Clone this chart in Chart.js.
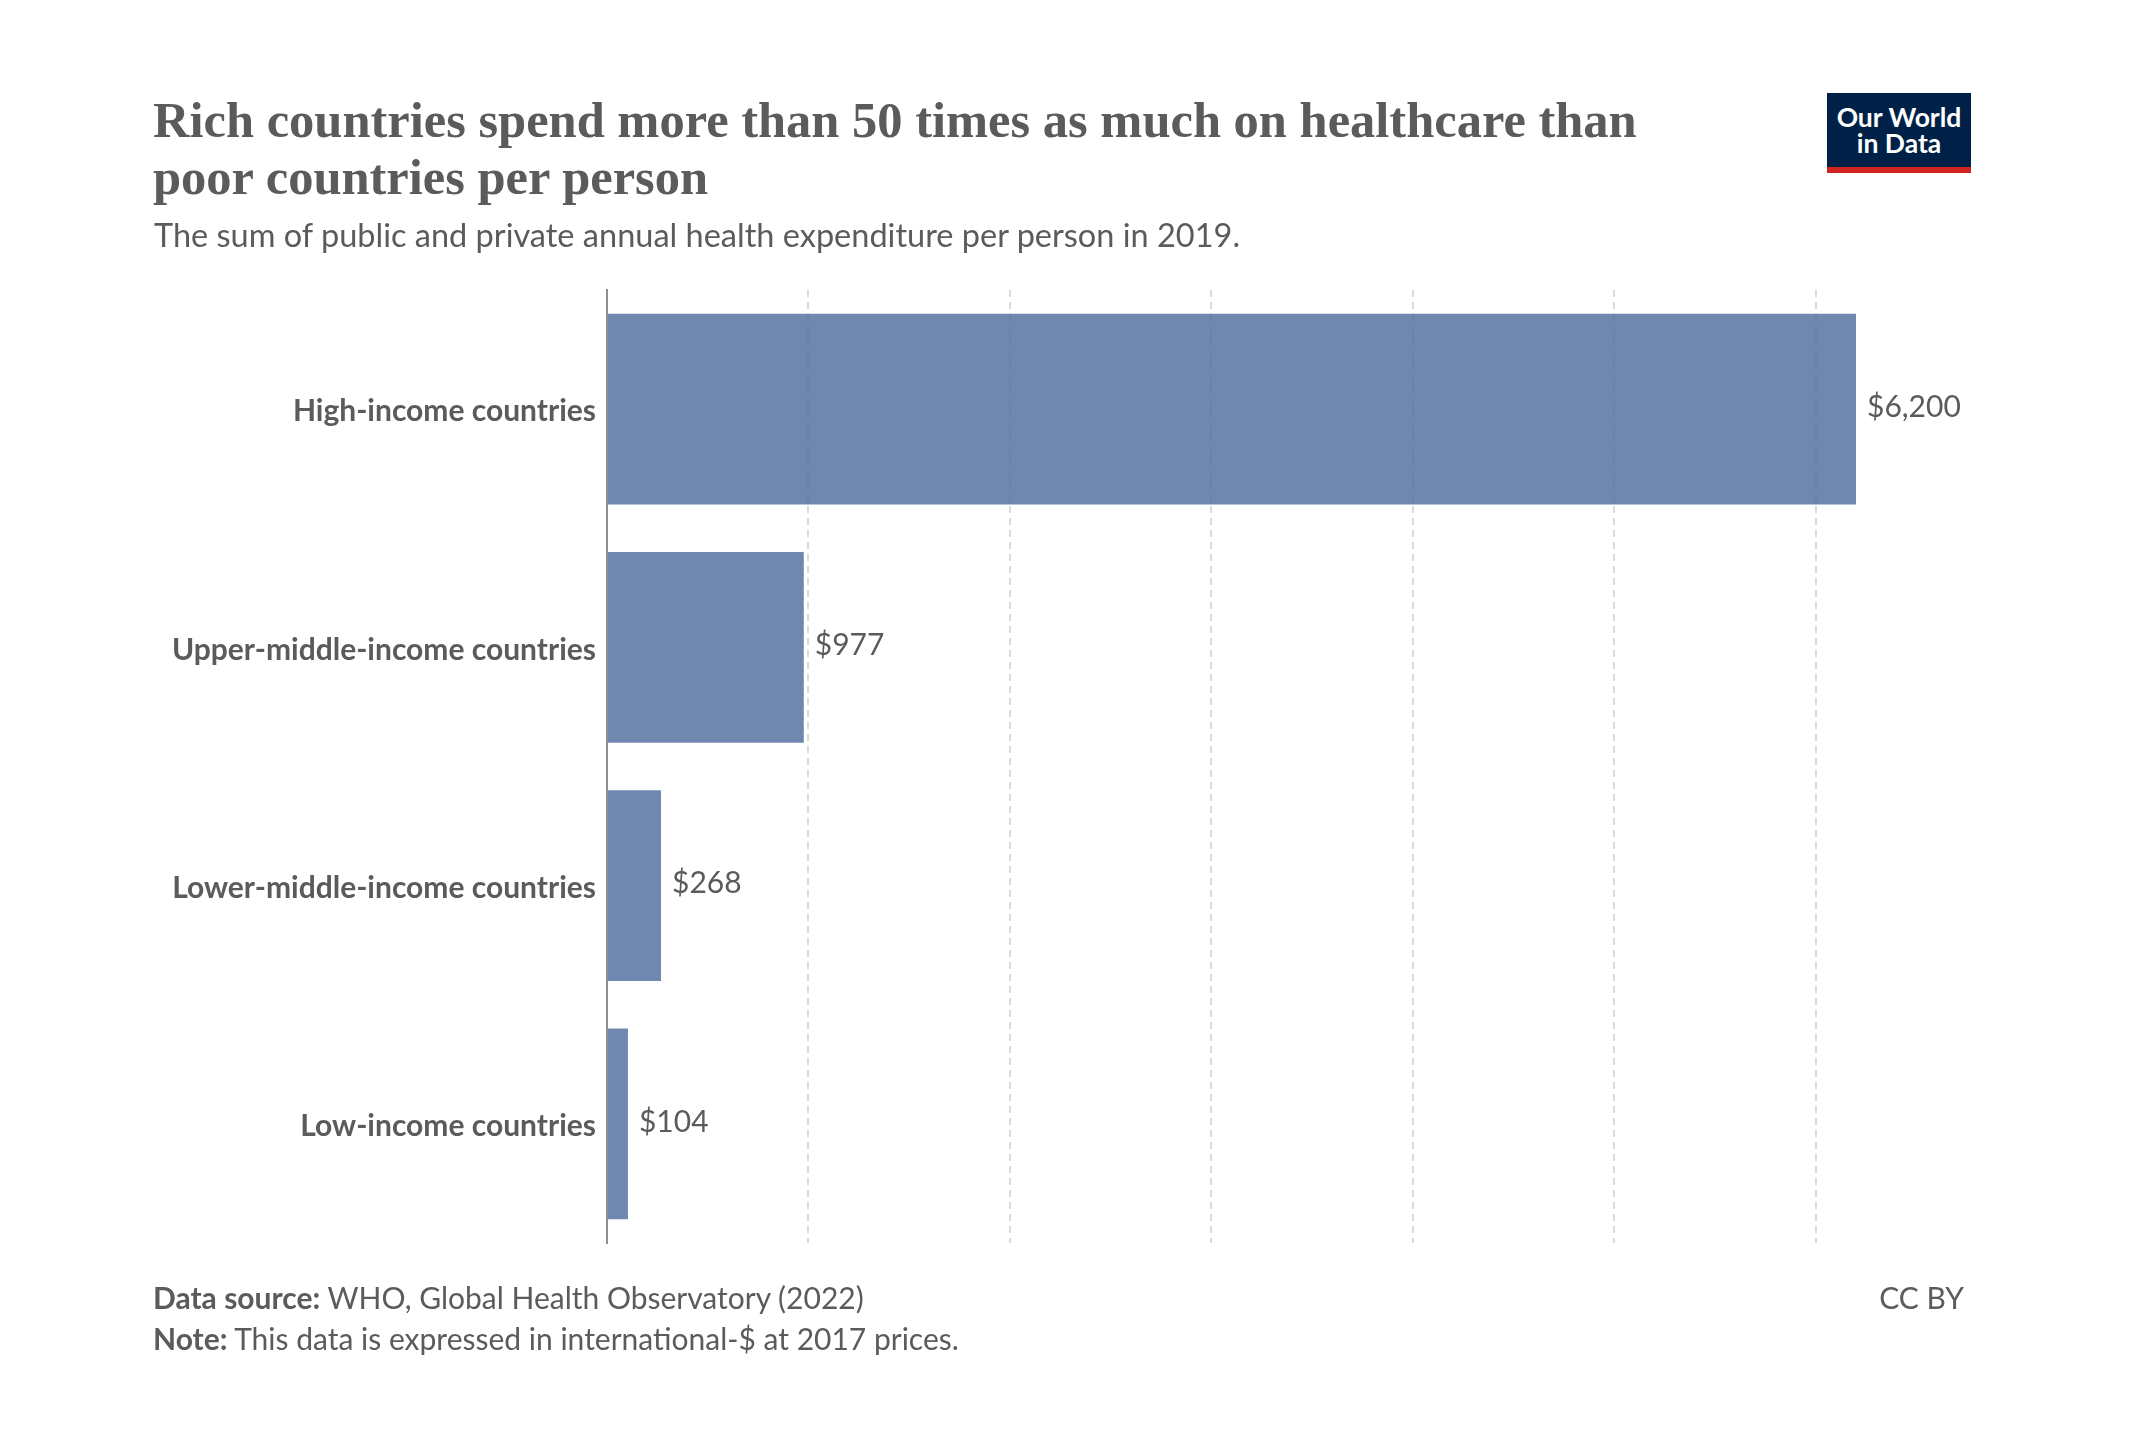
<!DOCTYPE html>
<html><head><meta charset="utf-8">
<script src="https://cdn.jsdelivr.net/npm/chart.js@4"></script>
<style>
html,body{margin:0;padding:0;background:#fff;width:2137px;height:1450px;overflow:hidden;font-family:Lato,sans-serif;color:#5b5b5b}
#c{position:absolute;left:0;top:0}
.t{position:absolute;white-space:nowrap}
#title{left:153px;top:92px;font:700 50.5px/57px "Liberation Serif",serif;color:#5b5b5b;letter-spacing:0}
#sub{left:154px;top:216px;font:400 32.5px/38px Lato,sans-serif;color:#5b5b5b}
#src{left:153px;top:1277px;font:400 30px/41px Lato,sans-serif;color:#5b5b5b}
#src b{font-weight:700}
#cc{right:173px;top:1277px;font:400 30px/41px Lato,sans-serif;color:#5b5b5b}
#logo{position:absolute;left:1827px;top:93px;width:144px;height:80px;background:#002147;border-bottom:6px solid #ce261e;box-sizing:border-box;color:#fff;font:700 26.5px/26px Lato,sans-serif;text-align:center;padding-top:11px}
</style></head><body>
<canvas id="c" width="2137" height="1450"></canvas>
<div class="t" id="title">Rich countries spend more than 50 times as much on healthcare than<br>poor countries per person</div>
<div class="t" id="sub">The sum of public and private annual health expenditure per person in 2019.</div>
<div class="t" id="src"><b>Data source:</b> WHO, Global Health Observatory (2022)<br><b>Note:</b> This data is expressed in international-$ at 2017 prices.</div>
<div class="t" id="cc">CC BY</div>
<div id="logo">Our World<br>in Data</div>
<script>
const categories = ["High-income countries","Upper-middle-income countries","Lower-middle-income countries","Low-income countries"];
const values = [6200,977,268,104];
const valueLabels = ["$6,200","$977","$268","$104"];
const gridValues = [0,1000,2000,3000,4000,5000,6000];

const valueLabelPlugin = {
  id:'valueLabels',
  afterDatasetsDraw(chart){
    const {ctx} = chart;
    const meta = chart.getDatasetMeta(0);
    ctx.save();
    ctx.font = '400 30px Lato, sans-serif';
    ctx.fillStyle = '#5b5b5b';
    ctx.textAlign = 'left';
    ctx.textBaseline = 'middle';
    meta.data.forEach((bar,i)=>ctx.fillText(valueLabels[i], bar.x + 11, bar.y - 2));
    ctx.restore();
  }
};

new Chart(document.getElementById('c'),{
  type:'bar',
  data:{labels:categories,datasets:[{data:values,backgroundColor:'rgba(76,106,156,0.8)',borderWidth:0,barPercentage:0.8,categoryPercentage:1}]},
  plugins:[valueLabelPlugin],
  options:{
    indexAxis:'y',responsive:false,animation:false,devicePixelRatio:1,
    layout:{padding:{top:290,bottom:207,left:0,right:281}},
    plugins:{legend:{display:false},title:{display:false},tooltip:{enabled:false}},
    scales:{
      x:{min:0,max:6200,position:'bottom',
        afterBuildTicks(s){s.ticks=gridValues.map(v=>({value:v}));},
        ticks:{display:false},
        border:{display:false,dash:[7,5]},
        grid:{color:'#dadada',lineWidth:2,drawTicks:false}},
      y:{position:'left',
        afterFit(s){
          s.width=607;
          if(!s._shifted){
            s._shifted=true;
            const orig=s._computeLabelItems;
            s._computeLabelItems=function(area){
              const items=orig.call(this,area);
              items.forEach(it=>{it.options.translation[1]+=2.5;});
              return items;
            };
          }
        },
        ticks:{color:'#5b5b5b',font:{family:'Lato',size:30,weight:'700'},padding:11},
        border:{display:true,color:'#909090',width:2},
        grid:{display:false,drawTicks:false}}
    }
  }
});
</script>
</body></html>
